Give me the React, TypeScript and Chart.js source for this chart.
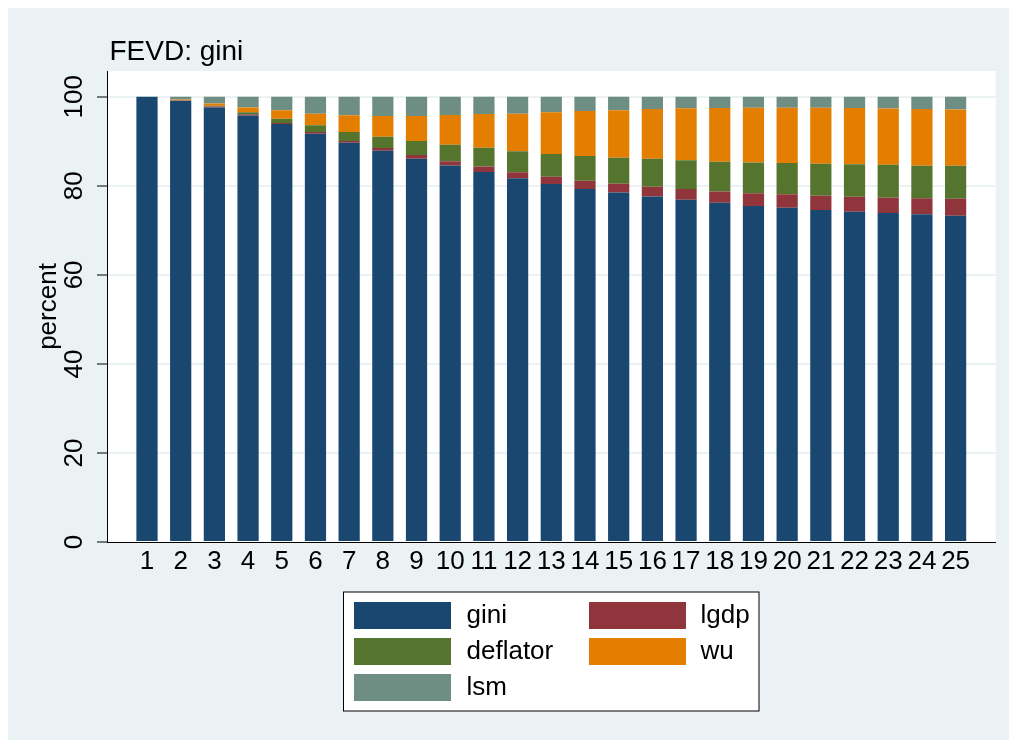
import React, { useEffect, useRef } from "react";
import { Chart, registerables } from "chart.js";

Chart.register(...registerables);

const periods = [1, 2, 3, 4, 5, 6, 7, 8, 9, 10, 11, 12, 13, 14, 15, 16, 17, 18, 19, 20, 21, 22, 23, 24, 25];
const gini = [100, 99.1, 97.6, 95.8, 93.9, 91.7, 89.7, 87.9, 86.1, 84.6, 83.1, 81.7, 80.4, 79.3, 78.5, 77.6, 76.9, 76.2, 75.5, 75.1, 74.6, 74.2, 73.9, 73.6, 73.3];
const lgdp = [0, 0.05, 0.2, 0.3, 0.22, 0.37, 0.37, 0.6, 0.82, 0.9, 1.26, 1.35, 1.64, 1.87, 1.95, 2.18, 2.4, 2.54, 2.85, 3.0, 3.15, 3.37, 3.44, 3.6, 3.8];
const deflator = [0, 0.05, 0.2, 0.45, 0.97, 1.57, 2.0, 2.55, 3.15, 3.75, 4.2, 4.72, 5.1, 5.55, 5.84, 6.3, 6.43, 6.67, 6.88, 7.05, 7.2, 7.26, 7.4, 7.33, 7.4];
const wu = [0, 0.22, 0.5, 1.05, 1.87, 2.55, 3.8, 4.65, 5.6, 6.67, 7.57, 8.45, 9.37, 10.1, 10.7, 11.17, 11.7, 12.07, 12.3, 12.4, 12.6, 12.66, 12.66, 12.74, 12.65];
const lsm = [0, 0.58, 1.5, 2.4, 3.04, 3.81, 4.13, 4.3, 4.33, 4.08, 3.87, 3.78, 3.49, 3.18, 3.01, 2.75, 2.57, 2.52, 2.47, 2.45, 2.45, 2.51, 2.6, 2.73, 2.85];

const seriesNames = ["gini", "lgdp", "deflator", "wu", "lsm"];
const seriesColors = ["#1A476F", "#90353B", "#55752F", "#E37E00", "#6E8E84"];
const yTicks = [0, 20, 40, 60, 80, 100];
const chartTitle = "FEVD: gini";
const yAxisTitle = "percent";

const FAMILY = "'Liberation Sans', Arial, Helvetica, sans-serif";
const BG = "#EAF2F3";

const bgPlugin = {
  id: "bgPlugin",
  beforeDraw(chart: any) {
    const { ctx, chartArea } = chart;
    ctx.save();
    ctx.fillStyle = BG;
    ctx.fillRect(0, 0, chart.width, chart.height);
    ctx.fillStyle = "#FFFFFF";
    ctx.fillRect(chartArea.left, chartArea.top, chartArea.right - chartArea.left, chartArea.bottom - chartArea.top);
    ctx.restore();
  },
};

const titlePlugin = {
  id: "titlePlugin",
  afterDraw(chart: any) {
    const { ctx } = chart;
    ctx.save();
    ctx.fillStyle = "#000";
    ctx.font = `28px ${FAMILY}`;
    ctx.textAlign = "left";
    ctx.textBaseline = "alphabetic";
    ctx.fillText(chartTitle, 101.5, 52);
    ctx.restore();
  },
};

const legendPlugin = {
  id: "legendPlugin",
  afterDraw(chart: any) {
    const { ctx } = chart;
    const ds = chart.data.datasets;
    const boxL = 335.5, boxT = 584, boxR = 751, boxB = 703;
    ctx.save();
    ctx.fillStyle = "#FFFFFF";
    ctx.fillRect(boxL, boxT, boxR - boxL, boxB - boxT);
    ctx.strokeStyle = "#000";
    ctx.lineWidth = 1;
    ctx.strokeRect(boxL, boxT, boxR - boxL, boxB - boxT);
    const colX = [346, 581];
    const textX = [458.5, 692.5];
    const rowY = [594, 630, 666];
    ctx.font = `26px ${FAMILY}`;
    ctx.textAlign = "left";
    ctx.textBaseline = "middle";
    ds.forEach((d: any, i: number) => {
      const col = i % 2;
      const row = Math.floor(i / 2);
      ctx.fillStyle = d.backgroundColor;
      ctx.fillRect(colX[col], rowY[row], 97, 27);
      ctx.fillStyle = "#000";
      ctx.fillText(d.label, textX[col], rowY[row] + 14);
    });
    ctx.restore();
  },
};

export default function App() {
  const ref = useRef<HTMLCanvasElement>(null);
  useEffect(() => {
    const series = [gini, lgdp, deflator, wu, lsm];
    const chart = new Chart(ref.current as HTMLCanvasElement, {
      type: "bar",
      data: {
        datasets: series.map((vals, i) => ({
          label: seriesNames[i],
          data: periods.map((p, j) => ({ x: p, y: vals[j] })),
          backgroundColor: seriesColors[i],
          borderWidth: 0,
          barPercentage: 0.63,
          categoryPercentage: 1,
          stack: "s",
        })),
      } as any,
      options: {
        animation: false,
        responsive: false,
        layout: { padding: { left: 0, right: 13.3, top: 63, bottom: 138 } },
        plugins: {
          legend: { display: false },
          tooltip: { enabled: false },
          title: { display: false },
        },
        scales: {
          x: {
            type: "linear",
            stacked: true,
            min: -0.187,
            max: 26.19,
            offset: false,
            afterBuildTicks: (s: any) => {
              s.ticks = periods.map((v) => ({ value: v }));
            },
            afterFit: (s: any) => {
              s.height = 60;
            },
            grid: { display: false, drawTicks: false },
            border: { display: true, color: "#000", width: 1 },
            ticks: {
              color: "#000",
              font: { family: FAMILY, size: 26 },
              padding: 4,
              maxRotation: 0,
              autoSkip: false,
              callback: (v: any) => String(v),
            },
          },
          y: {
            stacked: true,
            min: 0,
            max: 105.8,
            afterBuildTicks: (s: any) => {
              s.ticks = yTicks.map((v) => ({ value: v }));
            },
            afterFit: (s: any) => {
              s.width = 99;
            },
            grid: {
              color: (c: any) => (c.tick && c.tick.value === 0 ? "rgba(0,0,0,0)" : BG),
              lineWidth: 2,
              tickColor: "#000",
              tickWidth: 1,
              tickLength: 10,
              drawTicks: true,
            },
            border: { display: true, color: "#000", width: 1 },
            ticks: {
              color: "#000",
              font: { family: FAMILY, size: 26 },
              padding: 0,
              minRotation: 90,
              maxRotation: 90,
              crossAlign: "center",
            },
            title: {
              display: true,
              text: yAxisTitle,
              color: "#000",
              font: { family: FAMILY, size: 26 },
              padding: { top: 25, bottom: 0 },
            },
          },
        },
      } as any,
      plugins: [bgPlugin, titlePlugin, legendPlugin],
    });
    return () => chart.destroy();
  }, []);
  return (
    <canvas
      ref={ref}
      width={1001}
      height={732}
      style={{ display: "block", position: "fixed", left: 8, top: 8 }}
    />
  );
}
